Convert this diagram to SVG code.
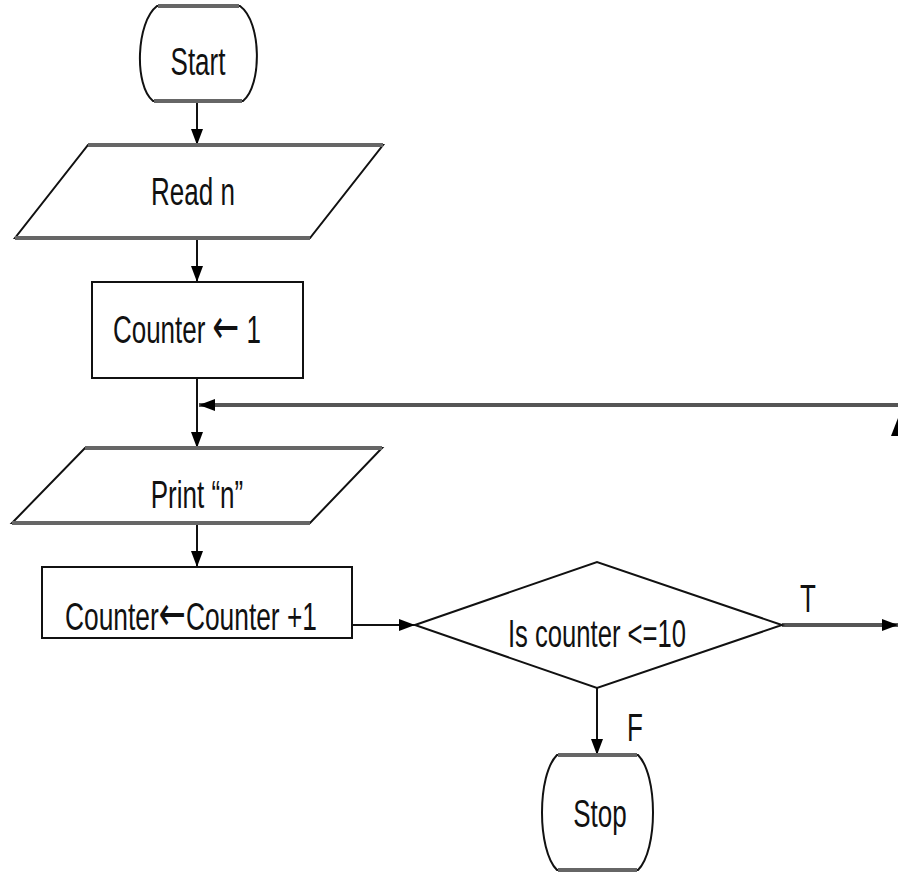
<svg xmlns="http://www.w3.org/2000/svg" width="898" height="873" viewBox="0 0 898 873">
<defs>
<style>
.shape{fill:#fff;stroke:#111;stroke-width:2}
.edge{stroke:#666;stroke-width:4;fill:none}
.conn{stroke:#111;stroke-width:2;fill:none}
.connh{stroke:#555;stroke-width:4;fill:none}
.lbl{font-family:"Liberation Sans",Arial,sans-serif;font-size:26px;fill:#111;text-anchor:middle}
.arr{font-family:"DejaVu Sans",sans-serif;font-size:32px}
</style>
<marker id="ah" viewBox="0 0 16 12" refX="16" refY="6" markerWidth="16" markerHeight="12" markerUnits="userSpaceOnUse" orient="auto">
<path d="M0,0 L16,6 L0,12 Z" fill="#000"/>
</marker>
</defs>
<rect width="898" height="873" fill="#fff"/>
<g id="connectors">
<line class="conn" x1="197" y1="101" x2="197" y2="145" marker-end="url(#ah)"/>
<line class="conn" x1="197" y1="238" x2="197" y2="282" marker-end="url(#ah)"/>
<line class="conn" x1="197" y1="378" x2="197" y2="448" marker-end="url(#ah)"/>
<line class="connh" x1="898" y1="405" x2="199" y2="405" marker-end="url(#ah)"/>
<polygon points="898,418 891,436 905,436" fill="#000"/>
<line class="conn" x1="197" y1="523" x2="197" y2="567" marker-end="url(#ah)"/>
<line class="conn" x1="352" y1="625" x2="415" y2="625" marker-end="url(#ah)"/>
<line class="connh" x1="782" y1="625" x2="898" y2="625" marker-end="url(#ah)"/>
<line class="conn" x1="597" y1="688" x2="597" y2="755" marker-end="url(#ah)"/>
<text class="lbl" transform="translate(808,612) scale(1,1.5)">T</text>
<text class="lbl" transform="translate(635,741) scale(1,1.5)">F</text>
</g>
<g id="start">
<path class="shape" d="M157,6 L240,6 C262,22 262,86 243,101 L153,101 C134,86 136,22 157,6 Z"/>
<line class="edge" x1="158" y1="6" x2="239" y2="6"/>
<line class="edge" x1="154" y1="101" x2="242" y2="101"/>
<text class="lbl" transform="translate(198,75) scale(1,1.5)">Start</text>
</g>
<g id="read">
<polygon class="shape" points="88,145 383,145 310,238 15,238"/>
<line class="edge" x1="88" y1="145" x2="383" y2="145"/>
<line class="edge" x1="15" y1="238" x2="310" y2="238"/>
<text class="lbl" transform="translate(193,205) scale(1,1.5)">Read n</text>
</g>
<g id="init">
<rect class="shape" x="92" y="282" width="211" height="96"/>
<text class="lbl" transform="translate(187,343) scale(1,1.5)">Counter <tspan class="arr">←</tspan> 1</text>
</g>
<g id="print">
<polygon class="shape" points="85,448 382,448 310,523 12,523"/>
<line class="edge" x1="85" y1="448" x2="382" y2="448"/>
<line class="edge" x1="12" y1="523" x2="310" y2="523"/>
<text class="lbl" transform="translate(197,508) scale(1,1.5)">Print “n”</text>
</g>
<g id="increment">
<rect class="shape" x="42" y="567" width="310" height="71"/>
<text class="lbl" transform="translate(191,630) scale(1,1.5)" textLength="252" lengthAdjust="spacingAndGlyphs">Counter<tspan class="arr">←</tspan>Counter +1</text>
</g>
<g id="decision">
<polygon class="shape" points="415,625 597,562 782,625 597,688"/>
<text class="lbl" transform="translate(597,647) scale(1,1.5)" textLength="178" lengthAdjust="spacingAndGlyphs">Is counter &lt;=10</text>
</g>
<g id="stop">
<path class="shape" d="M557,755 L638,755 C658,775 658,850 638,870 L557,870 C537,850 537,775 557,755 Z"/>
<line class="edge" x1="558" y1="755" x2="637" y2="755"/>
<line class="edge" x1="558" y1="870" x2="637" y2="870"/>
<text class="lbl" transform="translate(600,827) scale(1,1.5)">Stop</text>
</g>
</svg>
